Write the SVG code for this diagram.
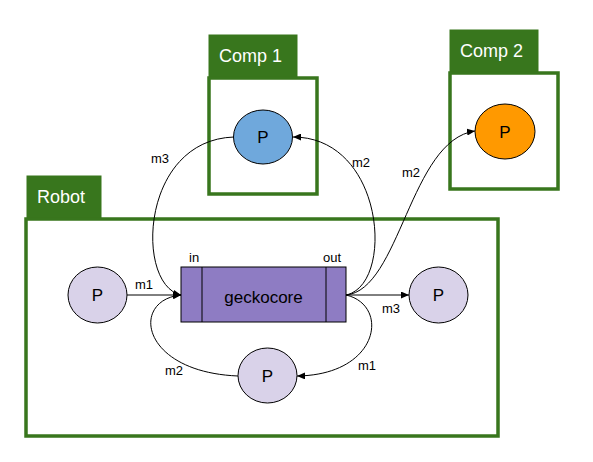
<svg xmlns="http://www.w3.org/2000/svg" width="593" height="462" viewBox="0 0 593 462">
<style>
.box{fill:none;stroke:#38761d;stroke-width:3.5}
.tab{fill:#38761d;stroke:#38761d;stroke-width:1}
.tabt{font-family:"Liberation Sans",Arial,sans-serif;font-size:18px;fill:#ffffff}
.node{stroke:#000;stroke-width:1}
.pt{font-family:"Liberation Sans",Arial,sans-serif;font-size:17px;fill:#000;text-anchor:middle}
.lbl{font-family:"Liberation Sans",Arial,sans-serif;font-size:13px;fill:#000}
.edge{fill:none;stroke:#000;stroke-width:1;marker-end:url(#arr)}
</style>
<defs>
<marker id="arr" markerUnits="userSpaceOnUse" markerWidth="8" markerHeight="7" refX="8" refY="3.5" orient="auto">
<path d="M0,0 L8,3.5 L0,7 z" fill="#000"/>
</marker>
</defs>
<rect width="593" height="462" fill="#ffffff"/>
<g id="robot">
<rect class="tab" x="27" y="176" width="74" height="42"/>
<text class="tabt" x="37" y="203">Robot</text>
<rect class="box" x="26" y="219" width="472" height="217"/>
</g>
<g id="comp1">
<rect class="tab" x="209" y="35" width="88" height="42"/>
<text class="tabt" x="219" y="62">Comp 1</text>
<rect class="box" x="209" y="78" width="108" height="116"/>
</g>
<g id="comp2">
<rect class="tab" x="450" y="30" width="88" height="42"/>
<text class="tabt" x="460" y="57">Comp 2</text>
<rect class="box" x="450" y="73" width="108" height="116"/>
</g>
<g id="connectors">
<path class="edge" d="M127,295 L181,295"/>
<text class="lbl" x="135" y="289">m1</text>
<path class="edge" d="M234,137 C140,140 135,285 181,295"/>
<text class="lbl" x="151" y="163">m3</text>
<path class="edge" d="M238,376 C140,372 130,300 181,295"/>
<text class="lbl" x="165" y="375">m2</text>
<path class="edge" d="M346,295 C395,285 385,137 293,137"/>
<text class="lbl" x="352" y="167">m2</text>
<path class="edge" d="M346,295 C400,290 410,140 475,131"/>
<text class="lbl" x="402" y="177">m2</text>
<path class="edge" d="M346,295 L409,295"/>
<text class="lbl" x="382" y="313">m3</text>
<path class="edge" d="M346,295 C390,305 380,375 297,376"/>
<text class="lbl" x="358" y="370">m1</text>
</g>
<g id="geckocore">
<rect class="node" x="181" y="267" width="165" height="55" fill="#8e7cc3"/>
<line x1="202" y1="267" x2="202" y2="322" stroke="#000" stroke-width="1"/>
<line x1="326" y1="267" x2="326" y2="322" stroke="#000" stroke-width="1"/>
<text class="pt" x="263.5" y="303" font-size="18">geckocore</text>
<text class="lbl" x="189" y="262">in</text>
<text class="lbl" x="323" y="262">out</text>
</g>
<g id="p-comp1">
<ellipse class="node" cx="263" cy="137" rx="29.5" ry="27" fill="#6fa8dc"/>
<text class="pt" x="263" y="143">P</text>
</g>
<g id="p-comp2">
<ellipse class="node" cx="505" cy="131.5" rx="30" ry="27.5" fill="#ff9900"/>
<text class="pt" x="505" y="137.5">P</text>
</g>
<g id="p-left">
<ellipse class="node" cx="97.5" cy="295" rx="29.5" ry="28" fill="#d9d2e9"/>
<text class="pt" x="97.5" y="301">P</text>
</g>
<g id="p-right">
<ellipse class="node" cx="438.5" cy="295" rx="29.5" ry="28" fill="#d9d2e9"/>
<text class="pt" x="438.5" y="301">P</text>
</g>
<g id="p-bottom">
<ellipse class="node" cx="267.5" cy="375.5" rx="29.5" ry="27.5" fill="#d9d2e9"/>
<text class="pt" x="267.5" y="381.5">P</text>
</g>
</svg>
